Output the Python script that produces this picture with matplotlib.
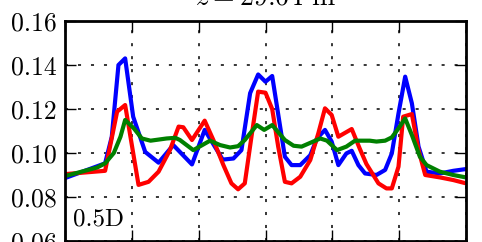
import numpy as np
import matplotlib
matplotlib.use('Agg')
import matplotlib.pyplot as plt

plt.rcParams['font.family'] = 'cmr10'
plt.rcParams['mathtext.fontset'] = 'cm'
plt.rcParams['axes.unicode_minus'] = False

# lateral position (y/D) and velocity deficit
x_blue = [-1.5, -1.2, -1.15, -1.1, -1.05, -0.99, -0.9, -0.8, -0.69, -0.55, -0.455,
          -0.32, -0.24, -0.18, -0.115, -0.055, 0.0, 0.05, 0.145, 0.195, 0.26, 0.335,
          0.385, 0.445, 0.495, 0.545, 0.605, 0.645, 0.695, 0.745, 0.83, 0.895, 0.945,
          0.995, 1.045, 1.095, 1.145, 1.205, 1.305, 1.405, 1.5]
u_blue = [0.0886, 0.0953, 0.1074, 0.140, 0.143, 0.1165, 0.1005, 0.0956, 0.1036, 0.0948, 0.1105,
          0.0970, 0.0975, 0.1013, 0.1272, 0.1357, 0.1324, 0.1350, 0.0983, 0.0945, 0.0945, 0.0990,
          0.1066, 0.1105, 0.1052, 0.0945, 0.0998, 0.1010, 0.0945, 0.0907, 0.0900, 0.0923, 0.0998,
          0.1180, 0.1347, 0.1226, 0.1029, 0.0915, 0.0907, 0.0919, 0.0927]

x_red = [-1.5, -1.2, -1.11, -1.05, -0.95, -0.875, -0.8, -0.715, -0.65, -0.615, -0.55,
         -0.455, -0.39, -0.315, -0.255, -0.205, -0.155, -0.105, -0.055, 0.0, 0.05, 0.095,
         0.145, 0.195, 0.26, 0.335, 0.395, 0.445, 0.495, 0.545, 0.645, 0.705, 0.755,
         0.845, 0.905, 0.945, 0.995, 1.03, 1.095, 1.145, 1.195, 1.305, 1.405, 1.5]
u_red = [0.0904, 0.0919, 0.1188, 0.1218, 0.0855, 0.0869, 0.0915, 0.1013, 0.1120, 0.1117, 0.1059,
         0.1147, 0.1059, 0.0945, 0.0862, 0.0835, 0.0862, 0.1074, 0.1279, 0.1274, 0.1200, 0.1029,
         0.0869, 0.0862, 0.0892, 0.0968, 0.1089, 0.1203, 0.1173, 0.1074, 0.1109, 0.1020, 0.0950,
         0.0862, 0.0839, 0.0839, 0.0938, 0.1165, 0.1177, 0.1013, 0.0900, 0.0889, 0.0877, 0.0862]

x_green = [-1.5, -1.26, -1.2, -1.135, -1.085, -1.05, -0.985, -0.925, -0.86, -0.74, -0.675,
           -0.64, -0.54, -0.415, -0.34, -0.265, -0.205, -0.155, -0.065, -0.01, 0.05, 0.145,
           0.21, 0.27, 0.41, 0.46, 0.535, 0.605, 0.67, 0.78, 0.83, 0.895, 0.945, 0.995,
           1.045, 1.095, 1.155, 1.205, 1.305, 1.405, 1.5]
u_green = [0.0895, 0.0934, 0.0953, 0.1000, 0.1074, 0.1150, 0.1112, 0.1066, 0.1056, 0.1066, 0.1069,
           0.1059, 0.1013, 0.1056, 0.1036, 0.1025, 0.1031, 0.1059, 0.1127, 0.1105, 0.1127, 0.1059,
           0.1033, 0.1029, 0.1066, 0.1056, 0.1013, 0.1029, 0.1056, 0.1056, 0.1052, 0.1056, 0.1071, 0.1112,
           0.1157, 0.1082, 0.0983, 0.0945, 0.0915, 0.0900, 0.0889]

yticks = [0.06, 0.08, 0.10, 0.12, 0.14, 0.16]
xticks = [-1.5, -1.0, -0.5, 0.0, 0.5, 1.0, 1.5]

fig = plt.figure(figsize=(4.82, 2.42), dpi=100)
ax = fig.add_axes([65/482, 1-241/242, 401/482, 220/242])

ax.plot(x_blue, u_blue, color='b', lw=3)
ax.plot(x_red, u_red, color='r', lw=3)
ax.plot(x_green, u_green, color='g', lw=3)

ax.set_xlim(-1.5, 1.5)
ax.set_ylim(0.06, 0.16)
ax.set_xticks(xticks)
ax.set_xticklabels([])
ax.set_yticks(yticks)
ax.set_yticklabels(['%.2f' % v for v in yticks], fontsize=18.5)
ax.grid(True, color='k', linestyle=(0, (2, 6.5)), linewidth=1.1)
ax.tick_params(direction='in', top=True, right=True, length=8, width=1, pad=6)
for s in ax.spines.values():
    s.set_linewidth(2)

ax.set_title(r'$z = 29.64$ m', fontsize=20, pad=12)
ax.text(0.02, 0.07, '0.5D', transform=ax.transAxes, fontsize=18)

plt.savefig('out.png', dpi=100)
